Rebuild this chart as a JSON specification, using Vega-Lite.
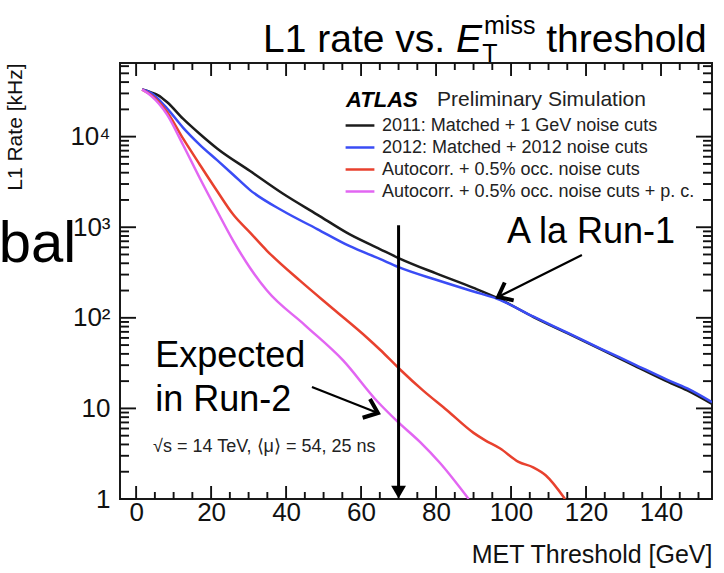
{
  "$schema": "https://vega.github.io/schema/vega-lite/v6.json",
  "width": 592,
  "height": 436,
  "autosize": {"type": "none"},
  "padding": {"left": 120, "top": 63, "right": 12, "bottom": 74},
  "background": "white",
  "config": {
    "view": {"stroke": "#1a1a1a", "strokeWidth": 2},
    "font": "Liberation Sans",
    "axis": {"grid": false, "domain": false, "ticks": false, "labelColor": "#111", "titleColor": "#111", "titleFontWeight": "normal", "labelFont": "Liberation Sans", "titleFont": "Liberation Sans"},
    "text": {"font": "Liberation Sans", "color": "black"}
  },
  "datasets": {
    "xt": [
      {"v": 0, "k": "xM"}, {"v": 5, "k": "xm"}, {"v": 10, "k": "xm"}, {"v": 15, "k": "xm"},
      {"v": 20, "k": "xM"}, {"v": 25, "k": "xm"}, {"v": 30, "k": "xm"}, {"v": 35, "k": "xm"},
      {"v": 40, "k": "xM"}, {"v": 45, "k": "xm"}, {"v": 50, "k": "xm"}, {"v": 55, "k": "xm"},
      {"v": 60, "k": "xM"}, {"v": 65, "k": "xm"}, {"v": 70, "k": "xm"}, {"v": 75, "k": "xm"},
      {"v": 80, "k": "xM"}, {"v": 85, "k": "xm"}, {"v": 90, "k": "xm"}, {"v": 95, "k": "xm"},
      {"v": 100, "k": "xM"}, {"v": 105, "k": "xm"}, {"v": 110, "k": "xm"}, {"v": 115, "k": "xm"},
      {"v": 120, "k": "xM"}, {"v": 125, "k": "xm"}, {"v": 130, "k": "xm"}, {"v": 135, "k": "xm"},
      {"v": 140, "k": "xM"}, {"v": 145, "k": "xm"}, {"v": 150, "k": "xm"}
    ],
    "yt": [
      {"v": 1, "k": "yM"}, {"v": 2, "k": "ym"}, {"v": 3, "k": "ym"}, {"v": 4, "k": "ym"}, {"v": 5, "k": "ym"}, {"v": 6, "k": "ym"}, {"v": 7, "k": "ym"}, {"v": 8, "k": "ym"}, {"v": 9, "k": "ym"},
      {"v": 10, "k": "yM"}, {"v": 20, "k": "ym"}, {"v": 30, "k": "ym"}, {"v": 40, "k": "ym"}, {"v": 50, "k": "ym"}, {"v": 60, "k": "ym"}, {"v": 70, "k": "ym"}, {"v": 80, "k": "ym"}, {"v": 90, "k": "ym"},
      {"v": 100, "k": "yM"}, {"v": 200, "k": "ym"}, {"v": 300, "k": "ym"}, {"v": 400, "k": "ym"}, {"v": 500, "k": "ym"}, {"v": 600, "k": "ym"}, {"v": 700, "k": "ym"}, {"v": 800, "k": "ym"}, {"v": 900, "k": "ym"},
      {"v": 1000, "k": "yM"}, {"v": 2000, "k": "ym"}, {"v": 3000, "k": "ym"}, {"v": 4000, "k": "ym"}, {"v": 5000, "k": "ym"}, {"v": 6000, "k": "ym"}, {"v": 7000, "k": "ym"}, {"v": 8000, "k": "ym"}, {"v": 9000, "k": "ym"},
      {"v": 10000, "k": "yM"}, {"v": 20000, "k": "ym"}, {"v": 30000, "k": "ym"}, {"v": 40000, "k": "ym"}, {"v": 50000, "k": "ym"}, {"v": 60000, "k": "ym"}
    ],
    "curves": [
      {"s": "2011: Matched + 1 GeV noise cuts", "x": 1.6, "y": 33100},
      {"s": "2011: Matched + 1 GeV noise cuts", "x": 4, "y": 30800},
      {"s": "2011: Matched + 1 GeV noise cuts", "x": 5.9, "y": 28600},
      {"s": "2011: Matched + 1 GeV noise cuts", "x": 8.3, "y": 24000},
      {"s": "2011: Matched + 1 GeV noise cuts", "x": 12.5, "y": 15800},
      {"s": "2011: Matched + 1 GeV noise cuts", "x": 17, "y": 10700},
      {"s": "2011: Matched + 1 GeV noise cuts", "x": 21.6, "y": 7410},
      {"s": "2011: Matched + 1 GeV noise cuts", "x": 30.4, "y": 4170},
      {"s": "2011: Matched + 1 GeV noise cuts", "x": 39.2, "y": 2340},
      {"s": "2011: Matched + 1 GeV noise cuts", "x": 48.3, "y": 1380},
      {"s": "2011: Matched + 1 GeV noise cuts", "x": 57, "y": 832},
      {"s": "2011: Matched + 1 GeV noise cuts", "x": 65, "y": 575},
      {"s": "2011: Matched + 1 GeV noise cuts", "x": 70, "y": 457},
      {"s": "2011: Matched + 1 GeV noise cuts", "x": 80, "y": 309},
      {"s": "2011: Matched + 1 GeV noise cuts", "x": 90, "y": 214},
      {"s": "2011: Matched + 1 GeV noise cuts", "x": 96.3, "y": 166},
      {"s": "2011: Matched + 1 GeV noise cuts", "x": 106, "y": 102},
      {"s": "2011: Matched + 1 GeV noise cuts", "x": 115, "y": 67.6},
      {"s": "2011: Matched + 1 GeV noise cuts", "x": 124, "y": 44.7},
      {"s": "2011: Matched + 1 GeV noise cuts", "x": 133, "y": 29.5},
      {"s": "2011: Matched + 1 GeV noise cuts", "x": 141, "y": 20.4},
      {"s": "2011: Matched + 1 GeV noise cuts", "x": 147, "y": 15.8},
      {"s": "2011: Matched + 1 GeV noise cuts", "x": 153.6, "y": 11.2},
      {"s": "2012: Matched + 2012 noise cuts", "x": 1.6, "y": 33100},
      {"s": "2012: Matched + 2012 noise cuts", "x": 4, "y": 30200},
      {"s": "2012: Matched + 2012 noise cuts", "x": 8.3, "y": 20400},
      {"s": "2012: Matched + 2012 noise cuts", "x": 12.5, "y": 12600},
      {"s": "2012: Matched + 2012 noise cuts", "x": 17, "y": 8130},
      {"s": "2012: Matched + 2012 noise cuts", "x": 21.6, "y": 5500},
      {"s": "2012: Matched + 2012 noise cuts", "x": 25.9, "y": 3800},
      {"s": "2012: Matched + 2012 noise cuts", "x": 30.4, "y": 2570},
      {"s": "2012: Matched + 2012 noise cuts", "x": 39.2, "y": 1510},
      {"s": "2012: Matched + 2012 noise cuts", "x": 48.3, "y": 955},
      {"s": "2012: Matched + 2012 noise cuts", "x": 57, "y": 617},
      {"s": "2012: Matched + 2012 noise cuts", "x": 65, "y": 447},
      {"s": "2012: Matched + 2012 noise cuts", "x": 70, "y": 363},
      {"s": "2012: Matched + 2012 noise cuts", "x": 80, "y": 263},
      {"s": "2012: Matched + 2012 noise cuts", "x": 90, "y": 195},
      {"s": "2012: Matched + 2012 noise cuts", "x": 96.3, "y": 162},
      {"s": "2012: Matched + 2012 noise cuts", "x": 106, "y": 103},
      {"s": "2012: Matched + 2012 noise cuts", "x": 115, "y": 68.5},
      {"s": "2012: Matched + 2012 noise cuts", "x": 124, "y": 45.5},
      {"s": "2012: Matched + 2012 noise cuts", "x": 133, "y": 30.5},
      {"s": "2012: Matched + 2012 noise cuts", "x": 141, "y": 21.3},
      {"s": "2012: Matched + 2012 noise cuts", "x": 147, "y": 16.6},
      {"s": "2012: Matched + 2012 noise cuts", "x": 153.6, "y": 11.7},
      {"s": "Autocorr. + 0.5% occ. noise cuts", "x": 1.6, "y": 33100},
      {"s": "Autocorr. + 0.5% occ. noise cuts", "x": 4, "y": 28800},
      {"s": "Autocorr. + 0.5% occ. noise cuts", "x": 8.3, "y": 18600},
      {"s": "Autocorr. + 0.5% occ. noise cuts", "x": 12.5, "y": 9550},
      {"s": "Autocorr. + 0.5% occ. noise cuts", "x": 17, "y": 4900},
      {"s": "Autocorr. + 0.5% occ. noise cuts", "x": 21.6, "y": 2510},
      {"s": "Autocorr. + 0.5% occ. noise cuts", "x": 25.9, "y": 1380},
      {"s": "Autocorr. + 0.5% occ. noise cuts", "x": 30.4, "y": 871},
      {"s": "Autocorr. + 0.5% occ. noise cuts", "x": 34.9, "y": 550},
      {"s": "Autocorr. + 0.5% occ. noise cuts", "x": 43.7, "y": 257},
      {"s": "Autocorr. + 0.5% occ. noise cuts", "x": 52.5, "y": 126},
      {"s": "Autocorr. + 0.5% occ. noise cuts", "x": 61.6, "y": 60.3},
      {"s": "Autocorr. + 0.5% occ. noise cuts", "x": 65, "y": 44.7},
      {"s": "Autocorr. + 0.5% occ. noise cuts", "x": 70.4, "y": 26.9},
      {"s": "Autocorr. + 0.5% occ. noise cuts", "x": 76.5, "y": 15.8},
      {"s": "Autocorr. + 0.5% occ. noise cuts", "x": 82.9, "y": 9.55},
      {"s": "Autocorr. + 0.5% occ. noise cuts", "x": 90, "y": 5.37},
      {"s": "Autocorr. + 0.5% occ. noise cuts", "x": 93, "y": 4.47},
      {"s": "Autocorr. + 0.5% occ. noise cuts", "x": 97, "y": 3.63},
      {"s": "Autocorr. + 0.5% occ. noise cuts", "x": 102, "y": 2.57},
      {"s": "Autocorr. + 0.5% occ. noise cuts", "x": 105.9, "y": 2.24},
      {"s": "Autocorr. + 0.5% occ. noise cuts", "x": 109.3, "y": 1.82},
      {"s": "Autocorr. + 0.5% occ. noise cuts", "x": 114.4, "y": 1.0},
      {"s": "Autocorr. + 0.5% occ. noise cuts + p. c.", "x": 1.6, "y": 33100},
      {"s": "Autocorr. + 0.5% occ. noise cuts + p. c.", "x": 4, "y": 28200},
      {"s": "Autocorr. + 0.5% occ. noise cuts + p. c.", "x": 8.3, "y": 17400},
      {"s": "Autocorr. + 0.5% occ. noise cuts + p. c.", "x": 12.5, "y": 8130},
      {"s": "Autocorr. + 0.5% occ. noise cuts + p. c.", "x": 17, "y": 3470},
      {"s": "Autocorr. + 0.5% occ. noise cuts + p. c.", "x": 21.6, "y": 1510},
      {"s": "Autocorr. + 0.5% occ. noise cuts + p. c.", "x": 25.9, "y": 708},
      {"s": "Autocorr. + 0.5% occ. noise cuts + p. c.", "x": 30.4, "y": 355},
      {"s": "Autocorr. + 0.5% occ. noise cuts + p. c.", "x": 34.9, "y": 200},
      {"s": "Autocorr. + 0.5% occ. noise cuts + p. c.", "x": 45, "y": 83.2},
      {"s": "Autocorr. + 0.5% occ. noise cuts + p. c.", "x": 55.2, "y": 33.9},
      {"s": "Autocorr. + 0.5% occ. noise cuts + p. c.", "x": 64.3, "y": 12.0},
      {"s": "Autocorr. + 0.5% occ. noise cuts + p. c.", "x": 69.6, "y": 7.24},
      {"s": "Autocorr. + 0.5% occ. noise cuts + p. c.", "x": 75.7, "y": 4.27},
      {"s": "Autocorr. + 0.5% occ. noise cuts + p. c.", "x": 81, "y": 2.51},
      {"s": "Autocorr. + 0.5% occ. noise cuts + p. c.", "x": 88.7, "y": 1.0}
    ]
  },
  "resolve": {"axis": {"x": "independent", "y": "independent"}},
  "layer": [
    {
      "data": {"name": "xt"},
      "transform": [{"filter": "datum.k === 'xM'"}],
      "mark": {"type": "rule", "color": "#111", "strokeWidth": 1.9, "opacity": 1},
      "encoding": {
        "x": {"field": "v", "type": "quantitative", "scale": {"domain": [-4.3, 153.6], "nice": false, "zero": false}, "axis": null},
        "y": {"datum": 1, "type": "quantitative", "scale": {"type": "log", "domain": [1, 65000], "nice": false}, "axis": null},
        "y2": {"datum": 1.392}
      }
    },
    {
      "data": {"name": "xt"},
      "transform": [{"filter": "datum.k === 'xm'"}],
      "mark": {"type": "rule", "color": "#111", "strokeWidth": 1.9, "opacity": 1},
      "encoding": {
        "x": {"field": "v", "type": "quantitative", "scale": {"domain": [-4.3, 153.6], "nice": false, "zero": false}, "axis": null},
        "y": {"datum": 1, "type": "quantitative", "scale": {"type": "log", "domain": [1, 65000], "nice": false}, "axis": null},
        "y2": {"datum": 1.195}
      }
    },
    {
      "data": {"name": "xt"},
      "transform": [{"filter": "datum.k === 'xM'"}],
      "mark": {"type": "rule", "color": "#111", "strokeWidth": 1.9, "opacity": 1},
      "encoding": {
        "x": {"field": "v", "type": "quantitative", "scale": {"domain": [-4.3, 153.6], "nice": false, "zero": false}, "axis": null},
        "y": {"datum": 65000, "type": "quantitative", "scale": {"type": "log", "domain": [1, 65000], "nice": false}, "axis": null},
        "y2": {"datum": 46700}
      }
    },
    {
      "data": {"name": "xt"},
      "transform": [{"filter": "datum.k === 'xm'"}],
      "mark": {"type": "rule", "color": "#111", "strokeWidth": 1.9, "opacity": 1},
      "encoding": {
        "x": {"field": "v", "type": "quantitative", "scale": {"domain": [-4.3, 153.6], "nice": false, "zero": false}, "axis": null},
        "y": {"datum": 65000, "type": "quantitative", "scale": {"type": "log", "domain": [1, 65000], "nice": false}, "axis": null},
        "y2": {"datum": 54400}
      }
    },
    {
      "data": {"name": "yt"},
      "transform": [{"filter": "datum.k === 'yM'"}],
      "mark": {"type": "rule", "color": "#111", "strokeWidth": 1.9, "opacity": 1},
      "encoding": {
        "y": {"field": "v", "type": "quantitative", "scale": {"type": "log", "domain": [1, 65000], "nice": false}, "axis": null},
        "x": {"datum": -4.3, "type": "quantitative", "scale": {"domain": [-4.3, 153.6], "nice": false, "zero": false}, "axis": null},
        "x2": {"datum": -0.03}
      }
    },
    {
      "data": {"name": "yt"},
      "transform": [{"filter": "datum.k === 'ym'"}],
      "mark": {"type": "rule", "color": "#111", "strokeWidth": 1.9, "opacity": 1},
      "encoding": {
        "y": {"field": "v", "type": "quantitative", "scale": {"type": "log", "domain": [1, 65000], "nice": false}, "axis": null},
        "x": {"datum": -4.3, "type": "quantitative", "scale": {"domain": [-4.3, 153.6], "nice": false, "zero": false}, "axis": null},
        "x2": {"datum": -1.9}
      }
    },
    {
      "data": {"name": "yt"},
      "transform": [{"filter": "datum.k === 'yM'"}],
      "mark": {"type": "rule", "color": "#111", "strokeWidth": 1.9, "opacity": 1},
      "encoding": {
        "y": {"field": "v", "type": "quantitative", "scale": {"type": "log", "domain": [1, 65000], "nice": false}, "axis": null},
        "x": {"datum": 153.6, "type": "quantitative", "scale": {"domain": [-4.3, 153.6], "nice": false, "zero": false}, "axis": null},
        "x2": {"datum": 149.33}
      }
    },
    {
      "data": {"name": "yt"},
      "transform": [{"filter": "datum.k === 'ym'"}],
      "mark": {"type": "rule", "color": "#111", "strokeWidth": 1.9, "opacity": 1},
      "encoding": {
        "y": {"field": "v", "type": "quantitative", "scale": {"type": "log", "domain": [1, 65000], "nice": false}, "axis": null},
        "x": {"datum": 153.6, "type": "quantitative", "scale": {"domain": [-4.3, 153.6], "nice": false, "zero": false}, "axis": null},
        "x2": {"datum": 151.2}
      }
    },
    {
      "data": {"name": "curves"},
      "mark": {"type": "line", "strokeWidth": 2.5, "clip": true, "interpolate": "monotone"},
      "encoding": {
        "x": {"field": "x", "type": "quantitative", "scale": {"domain": [-4.3, 153.6], "nice": false, "zero": false},
          "axis": {"orient": "bottom", "values": [0, 20, 40, 60, 80, 100, 120, 140],
            "labelPadding": 0, "labelFontSize": 26, "labelFlush": false, "labelOverlap": false, "format": "d",
            "title": "MET Threshold [GeV]", "titleFontSize": 25, "titleAnchor": "end", "titlePadding": 17}},
        "y": {"field": "y", "type": "quantitative", "scale": {"type": "log", "domain": [1, 65000], "nice": false},
          "axis": {"orient": "left", "values": [1, 10, 100, 1000, 10000],
            "labelExpr": "datum.value === 1 ? '1' : datum.value === 10 ? '10' : datum.value === 100 ? '10²' : datum.value === 1000 ? '10³' : '10⁴'",
            "labelPadding": 10, "labelFontSize": 26, "labelOverlap": false, "labelFlush": false,
            "title": "L1 Rate [kHz]", "titleFontSize": 21, "titleAnchor": "end", "titlePadding": 44}},
        "color": {"field": "s", "type": "nominal",
          "scale": {"domain": ["2011: Matched + 1 GeV noise cuts", "2012: Matched + 2012 noise cuts", "Autocorr. + 0.5% occ. noise cuts", "Autocorr. + 0.5% occ. noise cuts + p. c."],
            "range": ["#1c1c1c", "#3a4cf5", "#e8412e", "#e266f2"]},
          "legend": {"orient": "none", "legendX": 229.5, "legendY": 52, "title": null, "symbolType": "M -1.6 0 L 1.6 0", "symbolSize": 324, "symbolStrokeWidth": 2.5,
            "labelFontSize": 18, "labelFont": "Liberation Sans", "labelColor": "#222", "labelOffset": 11.5, "rowPadding": 2, "labelLimit": 400}}
      }
    },
    {
      "data": {"values": [{"x": 70, "y": 1050, "y2": 1.25}]},
      "mark": {"type": "rule", "strokeWidth": 3, "color": "black"},
      "encoding": {
        "x": {"field": "x", "type": "quantitative", "scale": {"domain": [-4.3, 153.6], "nice": false, "zero": false}, "axis": null},
        "y": {"field": "y", "type": "quantitative", "scale": {"type": "log", "domain": [1, 65000], "nice": false}, "axis": null},
        "y2": {"field": "y2"}
      }
    },
    {
      "data": {"values": [{"x": 70, "y": 1.19}]},
      "mark": {"type": "point", "shape": "triangle-down", "filled": true, "size": 220, "color": "black", "opacity": 1},
      "encoding": {
        "x": {"field": "x", "type": "quantitative", "scale": {"domain": [-4.3, 153.6], "nice": false, "zero": false}, "axis": null},
        "y": {"field": "y", "type": "quantitative", "scale": {"type": "log", "domain": [1, 65000], "nice": false}, "axis": null}
      }
    },
    {
      "data": {"values": [{"x": 118.9, "y": 493, "x2": 96.53, "y2": 169.7}, {"x": 46.9, "y": 17.2, "x2": 64.5, "y2": 8.9}]},
      "mark": {"type": "rule", "strokeWidth": 2.2, "color": "black"},
      "encoding": {
        "x": {"field": "x", "type": "quantitative", "scale": {"domain": [-4.3, 153.6], "nice": false, "zero": false}, "axis": null},
        "y": {"field": "y", "type": "quantitative", "scale": {"type": "log", "domain": [1, 65000], "nice": false}, "axis": null},
        "x2": {"field": "x2"},
        "y2": {"field": "y2"}
      }
    },
    {
      "data": {"values": [{"x": 96.53, "y": 169.7}]},
      "mark": {"type": "point", "shape": "M -0.8 1 L 0 0 L 0.8 1", "filled": false, "size": 625, "strokeWidth": 4, "color": "black", "opacity": 1, "angle": 243.4},
      "encoding": {
        "x": {"field": "x", "type": "quantitative", "scale": {"domain": [-4.3, 153.6], "nice": false, "zero": false}, "axis": null},
        "y": {"field": "y", "type": "quantitative", "scale": {"type": "log", "domain": [1, 65000], "nice": false}, "axis": null}
      }
    },
    {
      "data": {"values": [{"x": 64.5, "y": 8.9}]},
      "mark": {"type": "point", "shape": "M -0.8 1 L 0 0 L 0.8 1", "filled": false, "size": 625, "strokeWidth": 4, "color": "black", "opacity": 1, "angle": 111.5},
      "encoding": {
        "x": {"field": "x", "type": "quantitative", "scale": {"domain": [-4.3, 153.6], "nice": false, "zero": false}, "axis": null},
        "y": {"field": "y", "type": "quantitative", "scale": {"type": "log", "domain": [1, 65000], "nice": false}, "axis": null}
      }
    },
    {
      "data": {"values": [{"t": "A la Run-1", "x": 98.93, "y": 669}, {"t": "Expected", "x": 5.07, "y": 28.6}, {"t": "in Run-2", "x": 5.07, "y": 9.36}]},
      "mark": {"type": "text", "fontSize": 36, "align": "left", "baseline": "alphabetic", "clip": false},
      "encoding": {
        "x": {"field": "x", "type": "quantitative", "scale": {"domain": [-4.3, 153.6], "nice": false, "zero": false}, "axis": null},
        "y": {"field": "y", "type": "quantitative", "scale": {"type": "log", "domain": [1, 65000], "nice": false}, "axis": null},
        "text": {"field": "t"}
      }
    },
    {
      "data": {"values": [{"t": "√s  = 14 TeV, ⟨μ⟩ = 54, 25 ns", "x": 4.53, "y": 3.75}]},
      "mark": {"type": "text", "fontSize": 18, "align": "left", "baseline": "middle", "color": "#222"},
      "encoding": {
        "x": {"field": "x", "type": "quantitative", "scale": {"domain": [-4.3, 153.6], "nice": false, "zero": false}, "axis": null},
        "y": {"field": "y", "type": "quantitative", "scale": {"type": "log", "domain": [1, 65000], "nice": false}, "axis": null},
        "text": {"field": "t"}
      }
    },
    {
      "data": {"values": [{"t": "ATLAS", "x": 56.0, "y": 25350}]},
      "mark": {"type": "text", "fontSize": 22, "fontWeight": "bold", "fontStyle": "italic", "align": "left", "baseline": "middle"},
      "encoding": {
        "x": {"field": "x", "type": "quantitative", "scale": {"domain": [-4.3, 153.6], "nice": false, "zero": false}, "axis": null},
        "y": {"field": "y", "type": "quantitative", "scale": {"type": "log", "domain": [1, 65000], "nice": false}, "axis": null},
        "text": {"field": "t"}
      }
    },
    {
      "data": {"values": [{"t": "Preliminary Simulation", "x": 80.27, "y": 25350}]},
      "mark": {"type": "text", "fontSize": 21, "align": "left", "baseline": "middle", "color": "#222"},
      "encoding": {
        "x": {"field": "x", "type": "quantitative", "scale": {"domain": [-4.3, 153.6], "nice": false, "zero": false}, "axis": null},
        "y": {"field": "y", "type": "quantitative", "scale": {"type": "log", "domain": [1, 65000], "nice": false}, "axis": null},
        "text": {"field": "t"}
      }
    },
    {
      "data": {"values": [{"t": "L1 rate vs.", "x": 33.87, "y": 85900}, {"t": "threshold", "x": 109.4, "y": 85900}]},
      "mark": {"type": "text", "fontSize": 39, "align": "left", "baseline": "alphabetic", "clip": false},
      "encoding": {
        "x": {"field": "x", "type": "quantitative", "scale": {"domain": [-4.3, 153.6], "nice": false, "zero": false}, "axis": null},
        "y": {"field": "y", "type": "quantitative", "scale": {"type": "log", "domain": [1, 65000], "nice": false}, "axis": null},
        "text": {"field": "t"}
      }
    },
    {
      "data": {"values": [{"t": "E", "x": 85.3, "y": 85900}]},
      "mark": {"type": "text", "fontSize": 39, "fontStyle": "italic", "align": "left", "baseline": "alphabetic", "clip": false},
      "encoding": {
        "x": {"field": "x", "type": "quantitative", "scale": {"domain": [-4.3, 153.6], "nice": false, "zero": false}, "axis": null},
        "y": {"field": "y", "type": "quantitative", "scale": {"type": "log", "domain": [1, 65000], "nice": false}, "axis": null},
        "text": {"field": "t"}
      }
    },
    {
      "data": {"values": [{"t": "T", "x": 92.3, "y": 66600}, {"t": "miss", "x": 92.8, "y": 135600}]},
      "mark": {"type": "text", "fontSize": 25, "align": "left", "baseline": "alphabetic", "clip": false},
      "encoding": {
        "x": {"field": "x", "type": "quantitative", "scale": {"domain": [-4.3, 153.6], "nice": false, "zero": false}, "axis": null},
        "y": {"field": "y", "type": "quantitative", "scale": {"type": "log", "domain": [1, 65000], "nice": false}, "axis": null},
        "text": {"field": "t"}
      }
    },
    {
      "data": {"values": [{"t": "bal", "x": -16, "y": 413}]},
      "mark": {"type": "text", "fontSize": 58, "align": "right", "baseline": "alphabetic", "clip": false},
      "encoding": {
        "x": {"field": "x", "type": "quantitative", "scale": {"domain": [-4.3, 153.6], "nice": false, "zero": false}, "axis": null},
        "y": {"field": "y", "type": "quantitative", "scale": {"type": "log", "domain": [1, 65000], "nice": false}, "axis": null},
        "text": {"field": "t"}
      }
    }
  ]
}
